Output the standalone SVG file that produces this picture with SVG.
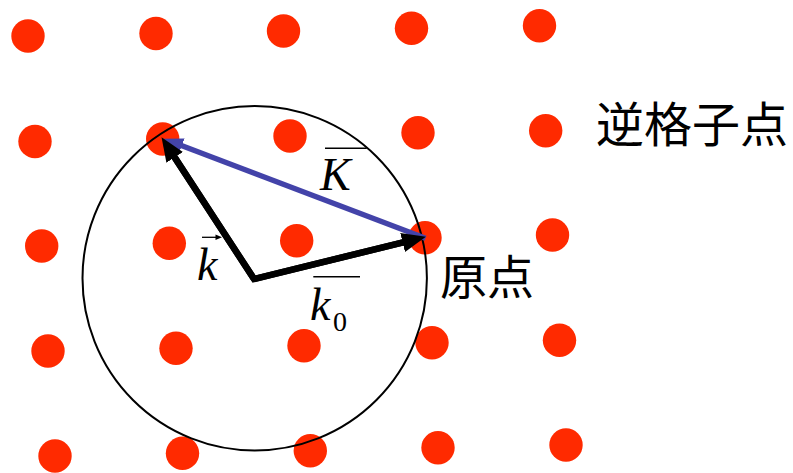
<svg xmlns="http://www.w3.org/2000/svg" width="793" height="473" viewBox="0 0 793 473">
<style>
.dot{fill:#FF2A00}
.math{font-family:"Liberation Serif",serif;font-style:italic;fill:#000}
.sub{font-family:"Liberation Serif",serif;fill:#000}
.cjk{font-family:"Noto Sans CJK JP",sans-serif;fill:#000}
.bar{stroke:#000;stroke-width:1.6}
</style>
<defs>
<marker id="ahBlack" markerUnits="userSpaceOnUse" markerWidth="24" markerHeight="20" viewBox="0 0 22 18" refX="12" refY="9" orient="auto">
<path d="M0,0 L22,9 L0,18 z" fill="#000"/>
</marker>
<marker id="ahBlue" markerUnits="userSpaceOnUse" markerWidth="20" markerHeight="16" viewBox="0 0 18 14" refX="10" refY="7" orient="auto">
<path d="M0,0 L18,7 L0,14 z" fill="#4343A9"/>
</marker>
</defs>
<g id="lattice">
<circle class="dot" cx="28" cy="36" r="16.7"/>
<circle class="dot" cx="156" cy="33.5" r="16.7"/>
<circle class="dot" cx="283.5" cy="31" r="16.7"/>
<circle class="dot" cx="411.5" cy="28.3" r="16.7"/>
<circle class="dot" cx="539.5" cy="25.7" r="16.7"/>
<circle class="dot" cx="35" cy="141.5" r="16.7"/>
<circle class="dot" cx="162.7" cy="139" r="16.7"/>
<circle class="dot" cx="290" cy="136" r="16.7"/>
<circle class="dot" cx="418" cy="132.7" r="16.7"/>
<circle class="dot" cx="545.7" cy="130.7" r="16.7"/>
<circle class="dot" cx="41.7" cy="246" r="16.7"/>
<circle class="dot" cx="169.3" cy="243.3" r="16.7"/>
<circle class="dot" cx="296.7" cy="240.7" r="16.7"/>
<circle class="dot" cx="425" cy="237.7" r="16.7"/>
<circle class="dot" cx="552.5" cy="235" r="16.7"/>
<circle class="dot" cx="48" cy="351" r="16.7"/>
<circle class="dot" cx="176" cy="348.3" r="16.7"/>
<circle class="dot" cx="304" cy="345.7" r="16.7"/>
<circle class="dot" cx="432" cy="342.7" r="16.7"/>
<circle class="dot" cx="559.5" cy="340.3" r="16.7"/>
<circle class="dot" cx="55" cy="456" r="16.7"/>
<circle class="dot" cx="182.5" cy="453.3" r="16.7"/>
<circle class="dot" cx="310.3" cy="450.7" r="16.7"/>
<circle class="dot" cx="438" cy="447.7" r="16.7"/>
<circle class="dot" cx="566" cy="445" r="16.7"/>
</g>
<g id="ewald-sphere">
<circle cx="254.7" cy="278.2" r="172.2" fill="none" stroke="#000" stroke-width="2"/>
</g>
<g id="connectors">
<line x1="425.5" y1="238.3" x2="171.5" y2="141.8" stroke="#4343A9" stroke-width="5.5" marker-end="url(#ahBlue)"/>
<polyline points="167.5,146.4 254,279 415.3,239.4" fill="none" stroke="#000" stroke-width="6.5" stroke-linejoin="miter"/>
<line x1="254" y1="279" x2="167.5" y2="146.4" stroke="#000" stroke-width="6.5" marker-end="url(#ahBlack)"/>
<line x1="254" y1="279" x2="415.3" y2="239.4" stroke="#000" stroke-width="6.5" marker-end="url(#ahBlack)"/>
</g>
<g id="label-K">
<line class="bar" x1="325" y1="148.3" x2="366.7" y2="148.3"/>
<text class="math" x="320" y="190" font-size="46">K</text>
</g>
<g id="label-k">
<line x1="202" y1="237.3" x2="218" y2="237.3" stroke="#000" stroke-width="1.3"/>
<path d="M222,237.3 L215.5,234.6 L215.5,240 z" fill="#000"/>
<text class="math" x="197" y="280" font-size="46">k</text>
</g>
<g id="label-k0">
<line class="bar" x1="313.3" y1="276.7" x2="360" y2="276.7"/>
<text class="math" x="310" y="320" font-size="46">k</text>
<text class="sub" x="333" y="331" font-size="28">0</text>
</g>
<g id="label-reciprocal">
<text class="cjk" x="596" y="142" font-size="48">逆格子点</text>
</g>
<g id="label-origin">
<text class="cjk" x="440" y="294" font-size="47">原点</text>
</g>
</svg>
